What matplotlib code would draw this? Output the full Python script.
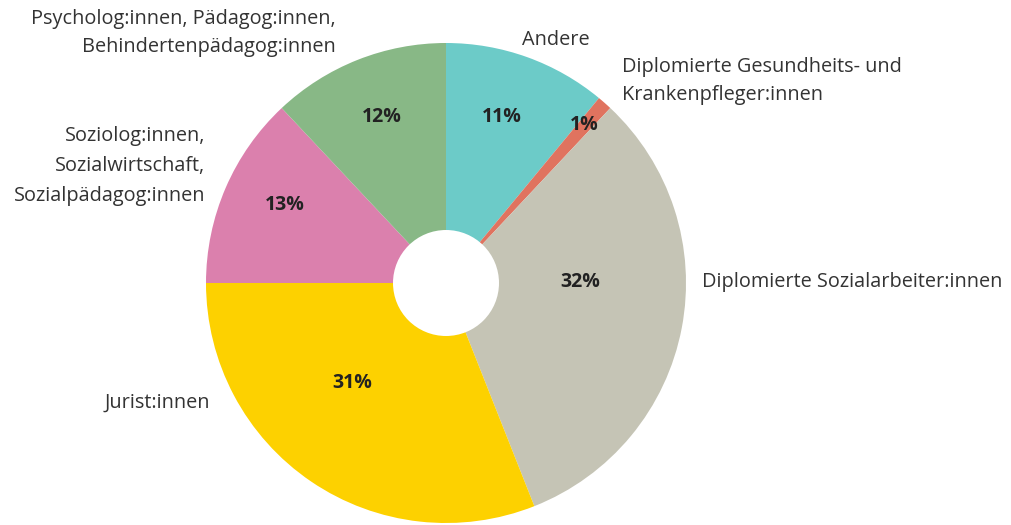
import matplotlib
matplotlib.use("Agg")
import matplotlib.pyplot as plt
from matplotlib.patches import Circle

categories = ["Andere", "Diplomierte Gesundheits- und\nKrankenpfleger:innen",
              "Diplomierte Sozialarbeiter:innen", "Jurist:innen",
              "Soziolog:innen,\nSozialwirtschaft,\nSozialpädagog:innen",
              "Psycholog:innen, Pädagog:innen,\nBehindertenpädagog:innen"]
values = [11, 1, 32, 31, 13, 12]
pct_labels = ["11%", "1%", "32%", "31%", "13%", "12%"]
colors = ["#6CCBC8", "#E0735F", "#C5C4B5", "#FDD100", "#DB80AD", "#88B886"]

W, H = 1012, 525
fig = plt.figure(figsize=(W / 100, H / 100), dpi=100)
ax = fig.add_axes([0, 0, 1, 1])

cx, cy, R = 446, H - 283, 240
wedges, _ = ax.pie(values, colors=colors, startangle=90, counterclock=False,
                   center=(cx, cy), radius=R, frame=True,
                   wedgeprops=dict(linewidth=0, antialiased=True))
ax.set_xlim(0, W)
ax.set_ylim(0, H)
ax.set_aspect("equal")
ax.axis("off")
ax.add_patch(Circle((cx, cy), 53, facecolor="white", edgecolor="none", zorder=5))

font = "Open Sans"
# percentage label positions (pixels from top-left)
pct_pos = [(502, 117), (584, 125), (580, 282), (352, 383), (285, 205), (382, 117)]
for (x, y), t in zip(pct_pos, pct_labels):
    ax.text(x, H - y, t, ha="center", va="center", fontsize=14,
            fontweight="bold", color="#222222", family=font, zorder=6)

# category label positions (pixels), alignment, line spacing
cat_pos = [(556, 40, "center", 1.6), (622, 81, "left", 1.52), (702, 282, "left", 1.6),
           (210, 403, "right", 1.6), (205, 166, "right", 1.64), (336, 33, "right", 1.58)]
for (x, y, ha, ls), t in zip(cat_pos, categories):
    ax.text(x, H - y, t, ha=ha, va="center", fontsize=14.3, color="#333333",
            family=font, linespacing=ls, multialignment=ha)

fig.savefig("out.png", dpi=100)
